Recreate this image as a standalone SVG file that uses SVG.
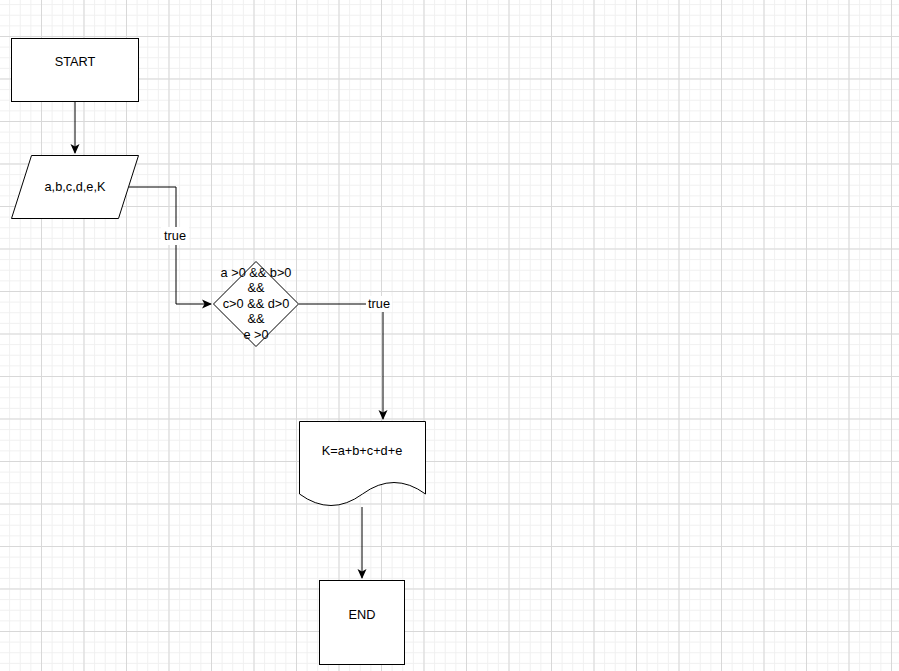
<svg xmlns="http://www.w3.org/2000/svg" width="899" height="671" viewBox="0 0 899 671">
<defs>
<pattern id="minor" x="-1.5" y="-6.5" width="10.625" height="10.625" patternUnits="userSpaceOnUse">
<path d="M0.5 0V10.625M0 0.5H10.625" fill="none" stroke="#f0f0f0" stroke-width="1"/>
</pattern>
<pattern id="major" x="-1.5" y="-6.5" width="42.5" height="42.5" patternUnits="userSpaceOnUse">
<path d="M0.5 0V42.5M0 0.5H42.5" fill="none" stroke="#d8d8d8" stroke-width="1"/>
</pattern>
<marker id="arr" viewBox="0 0 10 10" refX="9" refY="5" markerWidth="10" markerHeight="10" markerUnits="userSpaceOnUse" orient="auto">
<path d="M0 0.5 L10 5 L0 9.5 L2.5 5 Z" fill="#000"/>
</marker>
<style>
.shape{fill:#fff;stroke:#000;stroke-width:1}
.t{font-family:"Liberation Sans",Arial,sans-serif;font-size:12.75px;fill:#000;text-anchor:middle}
.edge{fill:none;stroke:#000;stroke-width:1}
</style>
</defs>
<rect width="899" height="671" fill="#fff"/>
<rect width="899" height="671" fill="url(#minor)"/>
<rect width="899" height="671" fill="url(#major)"/>

<g id="connectors">
<path class="edge" d="M75 102V153" marker-end="url(#arr)"/>
<path class="edge" d="M129 187H176V304H211" marker-end="url(#arr)"/>
<path class="edge" d="M299 304H383V419" marker-end="url(#arr)"/>
<path class="edge" d="M362 507V578" marker-end="url(#arr)"/>
<rect x="161" y="227" width="28" height="18" fill="#fff"/>
<text class="t" x="175" y="240">true</text>
<rect x="366" y="296" width="26" height="16" fill="#fff"/>
<text class="t" x="379" y="308">true</text>
</g>

<g id="start">
<rect class="shape" x="11.5" y="38.5" width="127" height="63"/>
<text class="t" x="75" y="66">START</text>
</g>

<g id="input">
<path class="shape" d="M31.5 155.5H138.5L118.5 218.5H11.5Z"/>
<text class="t" x="75" y="191">a,b,c,d,e,K</text>
</g>

<g id="decision">
<path class="shape" d="M256 261.5L298.5 304L256 346.5L213.5 304Z"/>
<text class="t" x="256" y="277">a &gt;0 &amp;&amp; b&gt;0</text>
<text class="t" x="256" y="292">&amp;&amp;</text>
<text class="t" x="256" y="308">c&gt;0 &amp;&amp; d&gt;0</text>
<text class="t" x="256" y="323">&amp;&amp;</text>
<text class="t" x="256" y="339">e &gt;0</text>
</g>

<g id="document">
<path class="shape" d="M299.5 421.5H425.5V494Q394 471 362.5 494T299.5 494Z"/>
<text class="t" x="362" y="455">K=a+b+c+d+e</text>
</g>

<g id="end">
<rect class="shape" x="319.5" y="580.5" width="85" height="84"/>
<text class="t" x="362" y="619">END</text>
</g>
</svg>
